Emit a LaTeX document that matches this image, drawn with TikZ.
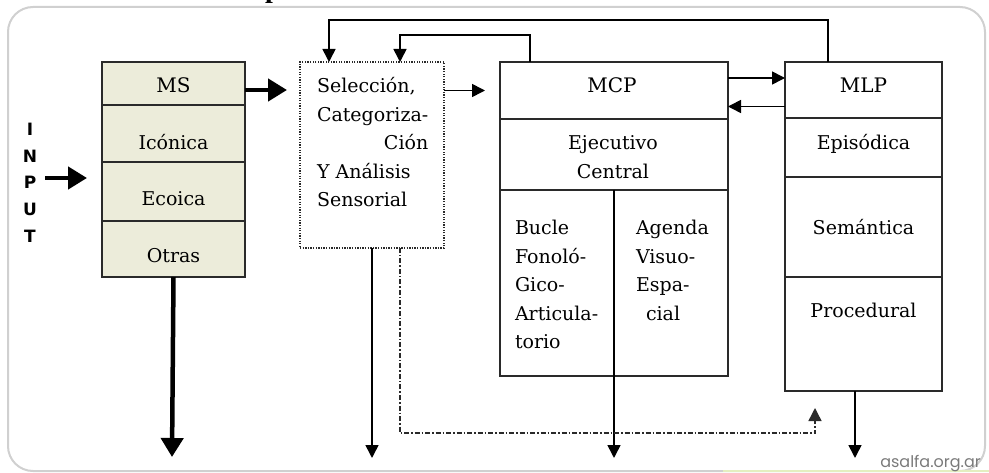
\documentclass[tikz,border=0pt]{standalone}
\usepackage{fontspec}
\setmainfont{DejaVu Serif}
\newfontfamily\inputfont{DejaVu Sans}
\newfontfamily\wmfont{Poppins}
\newfontfamily\titlefont{Liberation Serif}
\usetikzlibrary{arrows.meta,calc}
\definecolor{msfill}{HTML}{ECECDA}
\definecolor{boxline}{HTML}{2A2A2A}
\definecolor{framegray}{HTML}{D0D0D0}
\definecolor{wmgray}{HTML}{7A7A7A}
\definecolor{wmline}{HTML}{E4EEC0}
\tikzset{
  cell/.style={draw=boxline,line width=1.5pt,inner sep=0pt,outer sep=0pt,fill=white},
  mscell/.style={cell,fill=msfill,minimum width=143pt},
  mcpcell/.style={cell,minimum width=228pt},
  mlpcell/.style={cell,minimum width=157pt},
  txt/.style={inner sep=0pt,outer sep=0pt,anchor=base,font=\fontsize{19}{28.5}\selectfont},
  hdr/.style={txt,font=\fontsize{20}{24}\selectfont},
  inl/.style={inner sep=0pt,outer sep=0pt,font=\inputfont\bfseries\fontsize{17}{19}\selectfont},
  thinarrow/.style={draw=black,line width=1.6pt,-{Triangle[length=13pt,width=13pt]}},
  thickarrow/.style={draw=black,line width=4.5pt,-{Triangle[length=19pt,width=22pt]}},
  ddarrow/.style={draw=boxline,line width=1.4pt,dash pattern=on 5pt off 2pt on 1.5pt off 2pt,-{Triangle[length=13pt,width=13pt]}},
}
\begin{document}
\begin{tikzpicture}[x=1pt,y=-1pt]
\useasboundingbox (0,0) rectangle (989,473);
% frame
\draw[framegray,line width=2pt,rounded corners=25pt] (8,7) rectangle (985,471);
\draw[wmline,line width=2pt] (723,471) -- (989,471);
% title fragment (cut off at the top edge, as in the reference)
\node[font=\titlefont\bfseries\fontsize{28}{30}\selectfont,anchor=base west,inner sep=0pt] (title) at (265,-2.5) {p};

% MS stack
\node[mscell,minimum height=43pt] (ms)  at (173.5,83.5) {};
\node[mscell,minimum height=57pt] (ico) at (173.5,133.5) {};
\node[mscell,minimum height=59pt] (eco) at (173.5,191.5) {};
\node[mscell,minimum height=56pt] (otr) at (173.5,249) {};
\node[hdr] (mst)  at (173.5,93) {MS};
\node[txt] (icot) at (173.5,150) {Icónica};
\node[txt] (ecot) at (173.5,206) {Ecoica};
\node[txt] (otrt) at (173.5,263) {Otras};

% INPUT
\node[inl] (i1) at (30,129) {I};
\node[inl] (i2) at (30,156) {N};
\node[inl] (i3) at (30,182) {P};
\node[inl] (i4) at (30,209) {U};
\node[inl] (i5) at (30,236) {T};
\coordinate (inS) at (45,178);

% Seleccion box
\node[draw=boxline,line width=1.3pt,dash pattern=on 1.3pt off 1.3pt,inner sep=0pt,outer sep=0pt,
      minimum width=144pt,minimum height=186pt] (sel) at (372,155) {};
\node[txt,anchor=base west] (selt) at (317,93)
  {\begin{tabular}[t]{@{}l@{}}Selección,\\Categoriza-\\\multicolumn{1}{@{}r@{}}{Ción}\\Y Análisis\\Sensorial\end{tabular}};

% MCP
\node[mcpcell,minimum height=57pt] (mcph) at (614,90.5) {};
\node[mcpcell,minimum height=71pt] (ejec) at (614,154.5) {};
\node[cell,minimum width=114pt,minimum height=186pt] (bucle) at (557,283) {};
\node[cell,minimum width=114pt,minimum height=186pt] (agenda) at (671,283) {};
\node[hdr] (mcpt) at (612,93) {MCP};
\node[txt] (eject) at (613,150) {\begin{tabular}[t]{@{}c@{}}Ejecutivo\\Central\end{tabular}};
\node[txt,anchor=base west] (buclet) at (515,235)
  {\begin{tabular}[t]{@{}l@{}}Bucle\\Fonoló-\\Gico-\\Articula-\\torio\end{tabular}};
\node[txt,anchor=base west] (agendat) at (636,235)
  {\begin{tabular}[t]{@{}l@{}}Agenda\\Visuo-\\Espa-\\\hspace{10pt}cial\end{tabular}};

% MLP
\node[mlpcell,minimum height=56pt] (mlph) at (863.5,90) {};
\node[mlpcell,minimum height=59pt] (epi) at (863.5,147.5) {};
\node[mlpcell,minimum height=100pt] (sem) at (863.5,227) {};
\node[mlpcell,minimum height=114pt] (proc) at (863.5,334) {};
\node[hdr] (mlpt) at (863.5,93) {MLP};
\node[txt] (epit) at (863.5,150) {Episódica};
\node[txt] (semt) at (863.5,235) {Semántica};
\node[txt] (proct) at (863.5,318) {Procedural};

% watermark
\node[font=\wmfont\fontsize{16}{18}\selectfont,text=wmgray,anchor=base east,inner sep=0pt] (wm) at (981,467) {asalfa.org.ar};

% free ends
\coordinate (msout) at (172,457);
\coordinate (selout) at (372,458);
\coordinate (mcpout) at (614,458);
\coordinate (mlpout) at (855,458);
\coordinate (ddc) at (815,433);
\coordinate (ddt) at (815,408);

% connectors
\draw[thickarrow] (inS) -- (inS -| eco.west) [shorten >=15pt];
\draw[thickarrow,shorten >=13pt] ([yshift=-6.5pt]ms.east) -- ([yshift=-6.5pt]ms.east -| sel.west);
\draw[thickarrow] (otr.south) -- (msout);
\draw[thinarrow,shorten >=15pt] (sel.east |- mcph.west) -- (mcph.west);
\draw[thinarrow] ([yshift=12.5pt]mcph.east) -- ([yshift=12.5pt]mcph.east -| mlph.west);
\draw[thinarrow] ([yshift=-16.5pt]mlph.west) -- ([yshift=-16.5pt]mlph.west -| mcph.east);
\draw[thinarrow] ([xshift=-35.5pt]mlph.north) -- ++(0,-42) -| ([xshift=-43pt]sel.north);
\draw[thinarrow] ([xshift=-84pt]mcph.north) -- ++(0,-27) -| ([xshift=28pt]sel.north);
\draw[thinarrow] (sel.south) -- (selout);
\draw[thinarrow] (bucle.north east) -- (mcpout);
\draw[thinarrow] ([xshift=-8.5pt]proc.south) -- (mlpout);
\draw[ddarrow] ([xshift=28pt]sel.south) |- (ddc) -- (ddt);
\end{tikzpicture}
\end{document}
